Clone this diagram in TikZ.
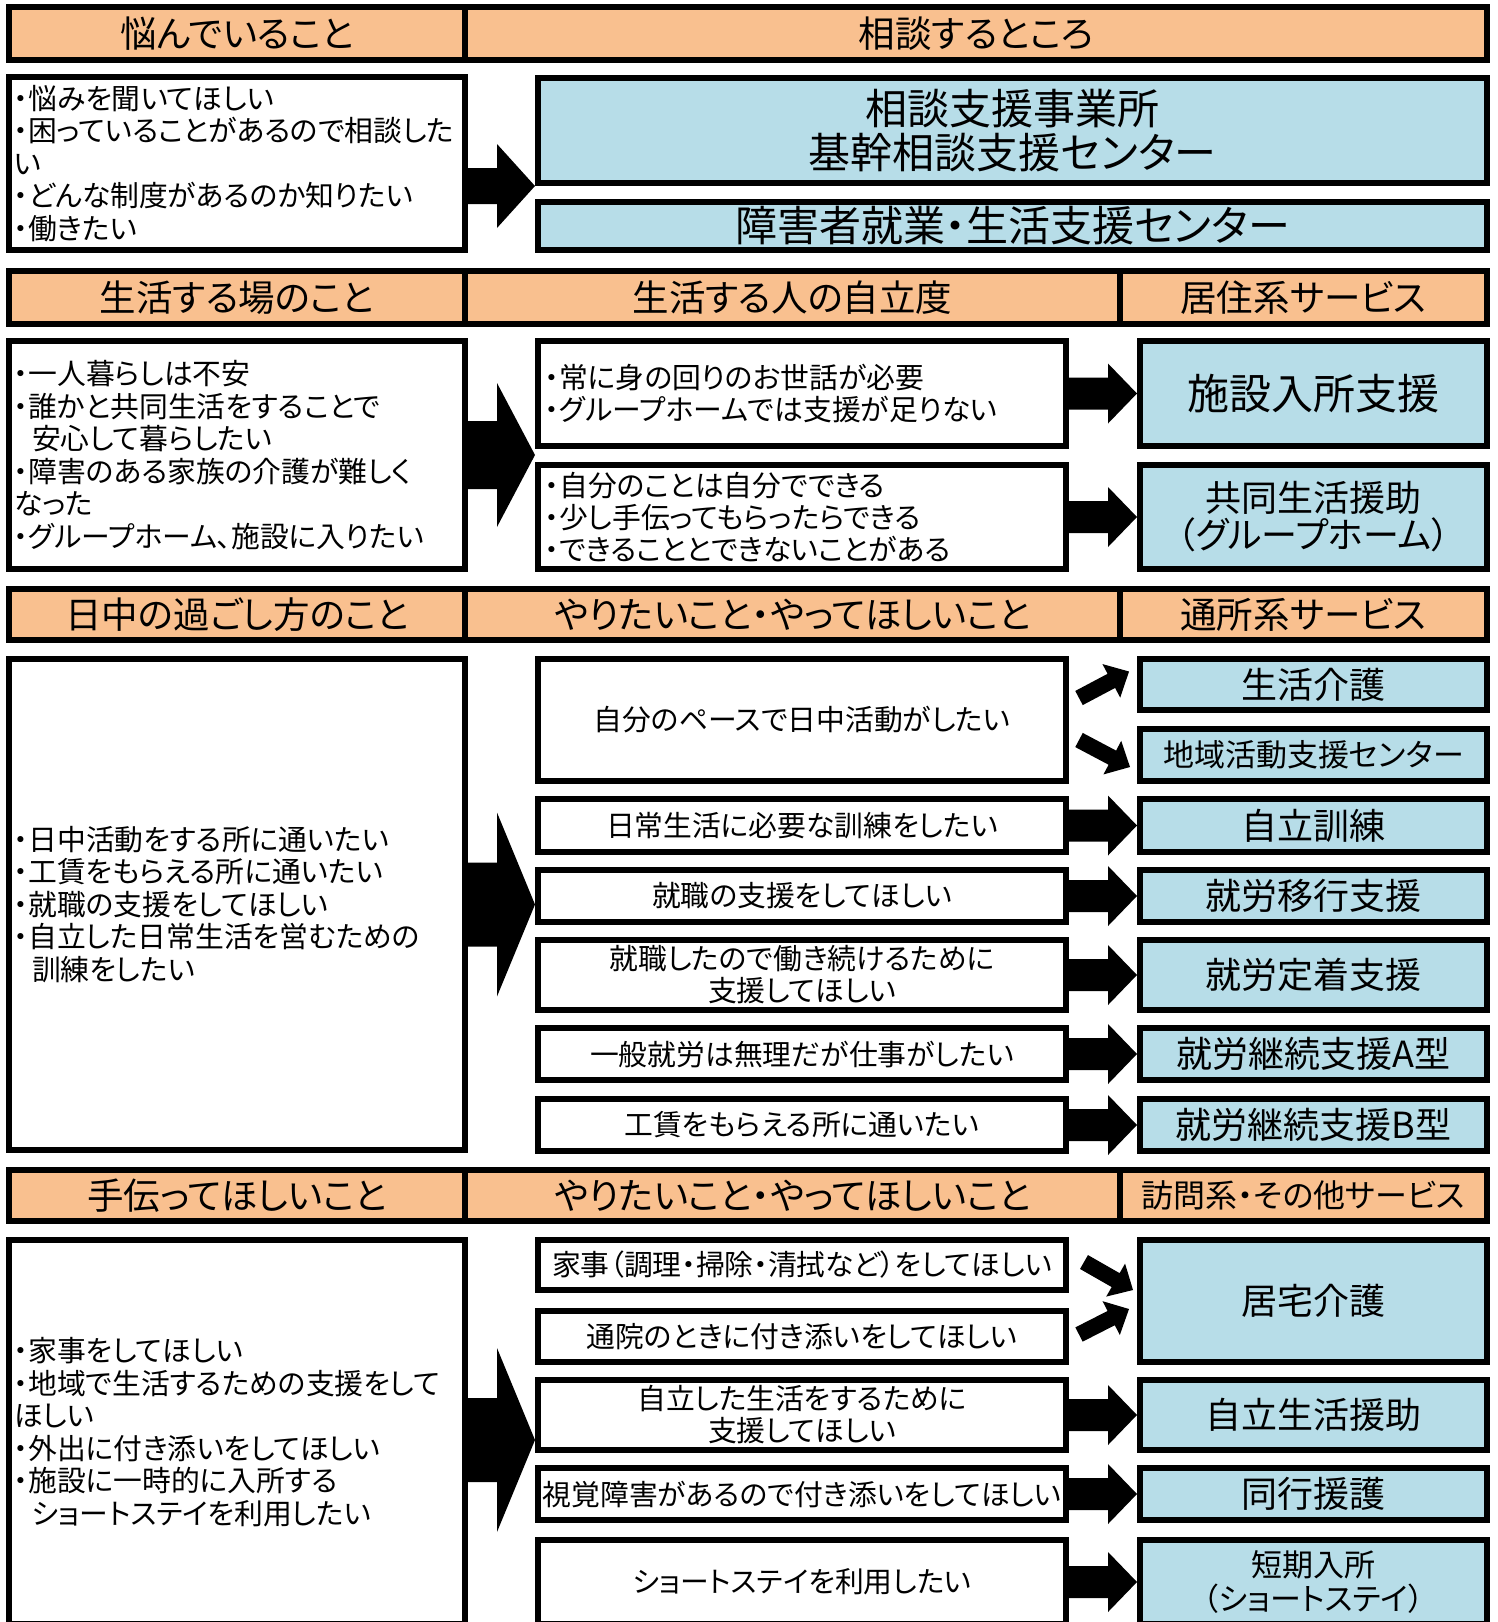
\documentclass[tikz,border=0pt]{standalone}
\usepackage{fontspec}
\setmainfont{Noto Sans CJK JP}[RawFeature=+palt]
\usepackage{xcolor}
\usepackage{tikz}
\usetikzlibrary{calc}

\definecolor{headfill}{RGB}{249,192,143}
\definecolor{svcfill}{RGB}{183,221,232}

% block arrow: start, tip, head length, head half width, body half width
\newcommand\blockarrow[5]{%
  \coordinate (ba) at ($(#2)!#3!(#1)$);
  \fill ($(#1)!#5!90:(#2)$) -- ($(ba)!#5!90:(#2)$) -- ($(ba)!#4!90:(#2)$) -- (#2)
    -- ($(ba)!#4!-90:(#2)$) -- ($(ba)!#5!-90:(#2)$) -- ($(#1)!#5!-90:(#2)$) -- cycle;%
}

\begin{document}
\begin{tikzpicture}[x=1pt,y=-1pt,
  cell/.style={draw,line width=6pt,outer sep=3pt,inner sep=0pt,anchor=north west},
  headcell/.style={cell,fill=headfill,font=\fontsize{36.5}{42}\selectfont},
  askbox/.style={cell,fill=white,align=left,inner xsep=5pt,text width=446pt,
    minimum width=456pt,font=\fontsize{28.8}{32.5}\selectfont},
  needbox/.style={cell,fill=white,minimum width=528pt,align=center,
    font=\fontsize{28.8}{32}\selectfont},
  needlist/.style={needbox,align=left,inner xsep=7pt,text width=514pt},
  svcbox/.style={cell,fill=svcfill,minimum width=347pt,align=center,
    font=\fontsize{36}{37}\selectfont}]
  \useasboundingbox (0,0) rectangle (1498,1622);
  \clip (0,0) rectangle (1498,1622);

  % row 1
  \node[headcell,minimum width=456pt,minimum height=53pt] (h1a) at (6,4) {悩んでいること};
  \node[headcell,minimum width=1022pt,minimum height=53pt] (h1b) at (462,4) {相談するところ};
  \node[askbox,minimum height=173pt] (ask1) at (6,74)
    {・悩みを聞いてほしい\\・困っていることがあるので相談した\\い\\・どんな制度があるのか知りたい\\・働きたい};
  \node[svcbox,minimum width=949pt,minimum height=105pt,font=\fontsize{42}{44.5}\selectfont] (svc1a) at (535,75)
    {相談支援事業所\\基幹相談支援センター};
  \node[svcbox,minimum width=949pt,minimum height=48pt,font=\fontsize{42}{44}\selectfont] (svc1b) at (535,199)
    {障害者就業・生活支援センター};

  % row 2
  \node[headcell,minimum width=456pt,minimum height=53pt] (h2a) at (6,268) {生活する場のこと};
  \node[headcell,minimum width=655pt,minimum height=53pt] (h2b) at (462,268) {生活する人の自立度};
  \node[headcell,minimum width=367pt,minimum height=53pt] (h2c) at (1117,268) {居住系サービス};
  \node[askbox,minimum height=228pt] (ask2) at (6,338)
    {・一人暮らしは不安\\・誰かと共同生活をすることで\\\hspace*{18pt}安心して暮らしたい\\・障害のある家族の介護が難しく\\なった\\・グループホーム、施設に入りたい};
  \node[needlist,minimum height=105pt] (need2a) at (535,338)
    {・常に身の回りのお世話が必要\\・グループホームでは支援が足りない};
  \node[needlist,minimum height=104pt] (need2b) at (535,462)
    {・自分のことは自分でできる\\・少し手伝ってもらったらできる\\・できることとできないことがある};
  \node[svcbox,minimum height=105pt,font=\fontsize{42}{44}\selectfont] (svc2a) at (1137,338) {施設入所支援};
  \node[svcbox,minimum height=104pt] (svc2b) at (1137,462) {共同生活援助\\（グループホーム）};

  % row 3
  \node[headcell,minimum width=456pt,minimum height=51pt] (h3a) at (6,586) {日中の過ごし方のこと};
  \node[headcell,minimum width=655pt,minimum height=51pt] (h3b) at (462,586) {やりたいこと・やってほしいこと};
  \node[headcell,minimum width=367pt,minimum height=51pt] (h3c) at (1117,586) {通所系サービス};
  \node[askbox,minimum height=491pt] (ask3) at (6,656)
    {・日中活動をする所に通いたい\\・工賃をもらえる所に通いたい\\・就職の支援をしてほしい\\・自立した日常生活を営むための\\\hspace*{18pt}訓練をしたい};
  \node[needbox,minimum height=122pt] (need3a) at (535,656) {自分のペースで日中活動がしたい};
  \node[needbox,minimum height=53pt] (need3b) at (535,796) {日常生活に必要な訓練をしたい};
  \node[needbox,minimum height=52pt] (need3c) at (535,867) {就職の支援をしてほしい};
  \node[needbox,minimum height=70pt] (need3d) at (535,937) {就職したので働き続けるために\\支援してほしい};
  \node[needbox,minimum height=52pt] (need3e) at (535,1025) {一般就労は無理だが仕事がしたい};
  \node[needbox,minimum height=52pt] (need3f) at (535,1096) {工賃をもらえる所に通いたい};
  \node[svcbox,minimum height=51pt] (svc3a) at (1137,656) {生活介護};
  \node[svcbox,minimum height=52pt,font=\fontsize{31}{34}\selectfont] (svc3b) at (1137,726) {地域活動支援センター};
  \node[svcbox,minimum height=53pt] (svc3c) at (1137,796) {自立訓練};
  \node[svcbox,minimum height=52pt] (svc3d) at (1137,867) {就労移行支援};
  \node[svcbox,minimum height=70pt] (svc3e) at (1137,937) {就労定着支援};
  \node[svcbox,minimum height=52pt] (svc3f) at (1137,1025) {就労継続支援A型};
  \node[svcbox,minimum height=52pt] (svc3g) at (1137,1096) {就労継続支援B型};

  % row 4
  \node[headcell,minimum width=456pt,minimum height=51pt] (h4a) at (6,1167) {手伝ってほしいこと};
  \node[headcell,minimum width=655pt,minimum height=51pt] (h4b) at (462,1167) {やりたいこと・やってほしいこと};
  \node[headcell,minimum width=367pt,minimum height=51pt,font=\fontsize{32}{38}\selectfont] (h4c) at (1117,1167) {訪問系・その他サービス};
  \node[askbox,minimum height=384pt] (ask4) at (6,1237)
    {・家事をしてほしい\\・地域で生活するための支援をして\\ほしい\\・外出に付き添いをしてほしい\\・施設に一時的に入所する\\\hspace*{18pt}ショートステイを利用したい};
  \node[needbox,minimum height=50pt] (need4a) at (535,1237) {家事（調理・掃除・清拭など）をしてほしい};
  \node[needbox,minimum height=51pt] (need4b) at (535,1308) {通院のときに付き添いをしてほしい};
  \node[needbox,minimum height=70pt] (need4c) at (535,1377) {自立した生活をするために\\支援してほしい};
  \node[needbox,minimum height=52pt] (need4d) at (535,1465) {視覚障害があるので付き添いをしてほしい};
  \node[needbox,minimum height=84pt] (need4e) at (535,1537) {ショートステイを利用したい};
  \node[svcbox,minimum height=122pt] (svc4a) at (1137,1237) {居宅介護};
  \node[svcbox,minimum height=70pt] (svc4b) at (1137,1377) {自立生活援助};
  \node[svcbox,minimum height=52pt] (svc4c) at (1137,1465) {同行援護};
  \node[svcbox,minimum height=84pt,font=\fontsize{31}{34}\selectfont] (svc4d) at (1137,1537) {短期入所\\（ショートステイ）};

  % big arrows
  \coordinate (a1s) at (ask1.east |- svc1a.south west);
  \blockarrow{a1s}{svc1a.south west}{38pt}{42pt}{18pt}
  \coordinate (a2s) at (ask2.east);
  \coordinate (a2t) at (need2a.west |- ask2.east);
  \blockarrow{a2s}{a2t}{38pt}{72pt}{34pt}
  \coordinate (a3s) at (ask3.east);
  \coordinate (a3t) at (need3a.west |- ask3.east);
  \blockarrow{a3s}{a3t}{38pt}{92pt}{42pt}
  \coordinate (a4s) at ($(ask4.east)+(0,8)$);
  \coordinate (a4t) at (need4c.west |- a4s);
  \blockarrow{a4s}{a4t}{38pt}{92pt}{42pt}

  % small arrows
  \blockarrow{need2a.east}{svc2a.west}{29pt}{30pt}{16pt}
  \blockarrow{need2b.east}{svc2b.west}{29pt}{30pt}{16pt}
  \blockarrow{need3b.east}{svc3c.west}{29pt}{30pt}{16pt}
  \blockarrow{need3c.east}{svc3d.west}{29pt}{30pt}{16pt}
  \blockarrow{need3d.east}{svc3e.west}{29pt}{30pt}{16pt}
  \blockarrow{need3e.east}{svc3f.west}{29pt}{30pt}{16pt}
  \blockarrow{need3f.east}{svc3g.west}{29pt}{30pt}{16pt}
  \blockarrow{need4c.east}{svc4b.west}{29pt}{30pt}{16pt}
  \blockarrow{need4d.east}{svc4c.west}{29pt}{30pt}{16pt}
  \blockarrow{need4e.east}{svc4d.west}{29pt}{30pt}{16pt}

  % slanted arrows
  \coordinate (d1s) at ($(need3a.east)+(10,-22)$);
  \coordinate (d1t) at ($(svc3a.west)+(-8,-13)$);
  \blockarrow{d1s}{d1t}{20pt}{19pt}{8pt}
  \coordinate (d2s) at ($(need3a.east)+(10,20)$);
  \coordinate (d2t) at ($(svc3b.west)+(-7,12)$);
  \blockarrow{d2s}{d2t}{20pt}{19pt}{8pt}
  \coordinate (d3s) at ($(need4a.east)+(15,-3)$);
  \coordinate (d3t) at ($(svc4a.west)+(-4,-11)$);
  \blockarrow{d3s}{d3t}{20pt}{19pt}{8pt}
  \coordinate (d4s) at ($(need4b.east)+(10,-2)$);
  \coordinate (d4t) at ($(svc4a.west)+(-8,8)$);
  \blockarrow{d4s}{d4t}{20pt}{19pt}{8pt}
\end{tikzpicture}
\end{document}
